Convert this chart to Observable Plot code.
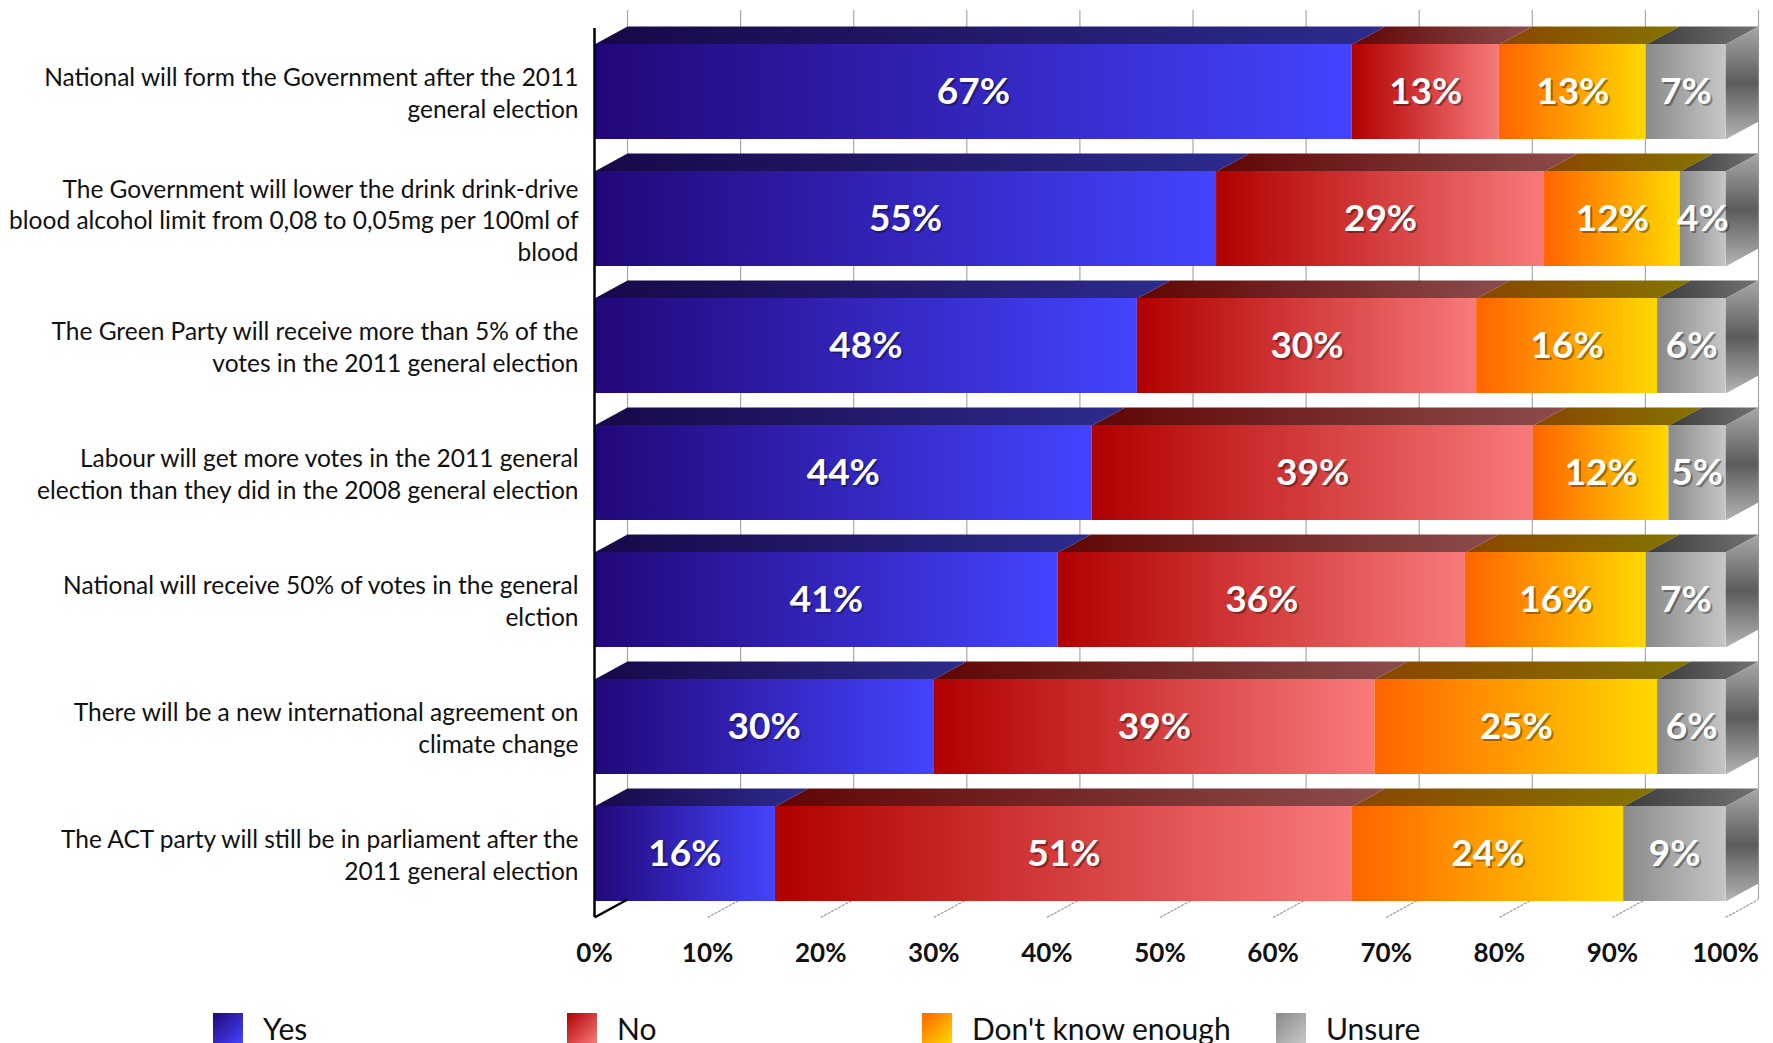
<!DOCTYPE html>
<html><head><meta charset="utf-8">
<script src="https://cdn.jsdelivr.net/npm/d3@7"></script>
<script src="https://cdn.jsdelivr.net/npm/@observablehq/plot@0.6"></script>
<style>
html,body{margin:0;padding:0;background:#fff;overflow:hidden;width:1773px;height:1043px;}
#chart{position:absolute;left:0;top:0;}
#legend{position:absolute;left:0;top:1013px;width:1773px;height:40px;font-family:Lato,sans-serif;font-size:30px;color:#111;}
.item{position:absolute;top:0;height:30px;display:flex;align-items:center;white-space:nowrap;}
.sw{width:30px;height:30px;margin-right:20px;flex:none;}
</style></head><body>
<div id="chart"></div><div id="legend"></div>
<script>
// ---- data ----
const questions = [
  "National will form the Government after the 2011\ngeneral election",
  "The Government will lower the drink drink-drive\nblood alcohol limit from 0,08 to 0,05mg per 100ml of\nblood",
  "The Green Party will receive more than 5% of the\nvotes in the 2011 general election",
  "Labour will get more votes in the 2011 general\nelection than they did in the 2008 general election",
  "National will receive 50% of votes in the general\nelction",
  "There will be a new international agreement on\nclimate change",
  "The ACT party will still be in parliament after the\n2011 general election"
];
const yes      = [67, 55, 48, 44, 41, 30, 16];
const no       = [13, 29, 30, 39, 36, 39, 51];
const dontKnow = [13, 12, 16, 12, 16, 25, 24];
const unsure   = [ 7,  4,  6,  5,  7,  6,  9];
const seriesNames = ["Yes", "No", "Don't know enough", "Unsure"];
const xTicks = [0, 10, 20, 30, 40, 50, 60, 70, 80, 90, 100];

// ---- styling (gradients) ----
const frontGrad = {
  "Yes": ["#220778", "#4444ff"],
  "No": ["#b00000", "#f87a7a"],
  "Don't know enough": ["#ff6400", "#ffd800"],
  "Unsure": ["#8a8a8a", "#c6c6c6"]
};
const topGrad = {
  "Yes": ["#180848", "#2c2c8e"],
  "No": ["#600606", "#8c4c4c"],
  "Don't know enough": ["#8a4600", "#857400"],
  "Unsure": ["#3c3c3c", "#727272"]
};
const gid = s => s.replace(/[^A-Za-z]/g, "");

// ---- build table ----
const seriesValues = [yes, no, dontKnow, unsure];
const segments = [];
questions.forEach((q, i) => {
  let acc = 0;
  seriesValues.forEach((vals, k) => {
    const v = vals[i];
    segments.push({i, series: seriesNames[k], x1: acc, x2: acc + v, value: v});
    acc += v;
  });
});

// geometry of the 3D look
const width = 1773, height = 1000;
const mL = 594, mR = 48, mT = 28, mB = 83;
const pxPerX = (width - mL - mR) / 100;
const pxPerY = (height - mT - mB) / 7;
const D = 33 / pxPerX;     // depth in x units
const E = 18 / pxPerY;     // depth in y units
const hh = 0.374;          // half bar thickness

const topPts = [];
segments.forEach((s, n) => {
  const yt = s.i - hh;
  [[s.x1, yt], [s.x2, yt], [s.x2 + D, yt - E], [s.x1 + D, yt - E]].forEach(([x, y]) =>
    topPts.push({id: n, series: s.series, x, y}));
});
const sidePts = [];
questions.forEach((q, i) => {
  [[100, i - hh], [100 + D, i - hh - E], [100 + D, i + hh - E], [100, i + hh]].forEach(([x, y]) =>
    sidePts.push({id: i, x, y}));
});

const marks = [
  Plot.ruleX(xTicks, {x: d => d, dx: 33, y1: -0.5 - E, y2: 6.5 - E, stroke: "#a8a8a8", strokeWidth: 1.2}),
  Plot.link(xTicks.filter(d => d > 0), {x1: d => d, y1: 6.5, x2: d => d + D, y2: 6.5 - E, stroke: "#999", strokeWidth: 1.2, strokeDasharray: "3,1"}),
];
seriesNames.forEach(s => {
  marks.push(Plot.line(topPts.filter(p => p.series === s), {x: "x", y: "y", z: "id", fill: `url(#top${gid(s)})`, stroke: "none", curve: "linear"}));
  marks.push(Plot.rectX(segments.filter(d => d.series === s), {x1: "x1", x2: "x2", y1: d => d.i - hh, y2: d => d.i + hh, fill: `url(#front${gid(s)})`}));
});
marks.push(Plot.line(sidePts, {x: "x", y: "y", z: "id", fill: "url(#sideGrad)", stroke: "none"}));
marks.push(Plot.ruleX([0], {y1: -0.5, y2: 6.5, stroke: "#000", strokeWidth: 2.5}));
marks.push(Plot.link([0], {x1: 0, y1: 6.5, x2: D, y2: 6.5 - E, stroke: "#000", strokeWidth: 2.5}));
marks.push(Plot.text(segments, {x: d => (d.x1 + d.x2) / 2, y: "i", text: d => d.value + "%", fill: "#000", fillOpacity: 0.35, dx: 2, dy: 2, fontSize: 37, fontWeight: "bold", fontFamily: "Lato"}));
marks.push(Plot.text(segments, {x: d => (d.x1 + d.x2) / 2, y: "i", text: d => d.value + "%", fill: "#fff", fontSize: 37, fontWeight: "bold", fontFamily: "Lato"}));
marks.push(Plot.axisX(xTicks, {tickFormat: d => d + "%", tickSize: 0, tickPadding: 26, fontSize: 26, fontWeight: "bold", fontFamily: "Lato", fill: "#111"}));
marks.push(Plot.axisY(d3.range(questions.length), {tickFormat: i => questions[i], tickSize: 0, tickPadding: 16, fontSize: 24.5, fontFamily: "Lato", lineHeight: 1.29, fill: "#111"}));

const chart = Plot.plot({
  width, height,
  marginLeft: mL, marginRight: mR, marginTop: mT, marginBottom: mB,
  x: {domain: [0, 100]},
  y: {type: "linear", domain: [-0.5, 6.5], reverse: true},
  style: {background: "#fff", overflow: "visible"},
  marks
});

// gradients
const svg = d3.select(chart.tagName.toLowerCase() === "svg" ? chart : chart.querySelector("svg"));
const defs = svg.append("defs");
function lin(id, stops, vertical) {
  const g = defs.append("linearGradient").attr("id", id)
    .attr("x1", 0).attr("y1", 0).attr("x2", vertical ? 0 : 1).attr("y2", vertical ? 1 : 0);
  stops.forEach(([o, c]) => g.append("stop").attr("offset", o).attr("stop-color", c));
}
seriesNames.forEach(s => {
  lin("front" + gid(s), [[0, frontGrad[s][0]], [1, frontGrad[s][1]]]);
  lin("top" + gid(s), [[0, topGrad[s][0]], [1, topGrad[s][1]]]);
});
lin("sideGrad", [[0, "#a8a8a8"], [0.5, "#5c5c5c"], [1, "#b4b4b4"]], true);

document.getElementById("chart").appendChild(chart);

// legend
const legend = document.getElementById("legend");
const legendX = [213, 567, 922, 1276];
seriesNames.forEach((s, k) => {
  const it = document.createElement("div");
  it.className = "item";
  it.style.left = legendX[k] + "px";
  const sw = document.createElement("div");
  sw.className = "sw";
  sw.style.background = `linear-gradient(135deg, ${frontGrad[s][0]}, ${frontGrad[s][1]})`;
  const tx = document.createElement("span");
  tx.textContent = s;
  it.appendChild(sw); it.appendChild(tx);
  legend.appendChild(it);
});
</script>
</body></html>
